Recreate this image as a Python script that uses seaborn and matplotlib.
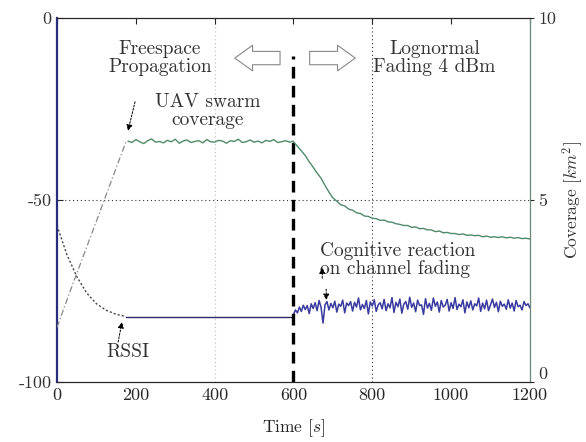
import numpy as np
import matplotlib
matplotlib.use("Agg")
import matplotlib.pyplot as plt
import seaborn as sns

# --- data ---
ramp_t = [0, 25, 50, 75, 100, 125, 150, 175]
rssi_ramp = [-57, -65, -71, -75.5, -78.5, -80.3, -81.4, -82]
cov_ramp = [1.5, 2.25, 2.98, 3.7, 4.42, 5.15, 5.88, 6.6]

rssi_flat_t = [175, 600]
rssi_flat = [-82, -82]

cov_plateau = [6.62, 6.58, 6.66, 6.60, 6.55, 6.63, 6.68, 6.59, 6.61, 6.57,
               6.64, 6.60, 6.67, 6.56, 6.62, 6.65, 6.58, 6.61, 6.63, 6.57,
               6.66, 6.60, 6.59, 6.64, 6.62, 6.56, 6.63, 6.61, 6.67, 6.58,
               6.60, 6.65, 6.59, 6.62, 6.57, 6.64, 6.61, 6.66, 6.58, 6.60,
               6.63, 6.59, 6.62]
cov_decay = [6.60, 6.48, 6.35, 6.22, 6.05, 5.90, 5.74, 5.60, 5.40, 5.22,
             5.06, 4.97, 4.87, 4.84, 4.75, 4.72, 4.65, 4.63, 4.56, 4.55,
             4.50, 4.49, 4.44, 4.45, 4.40, 4.39, 4.35, 4.33, 4.30, 4.30,
             4.25, 4.26, 4.21, 4.22, 4.18, 4.18, 4.13, 4.15, 4.10, 4.11,
             4.08, 4.08, 4.05, 4.07, 4.03, 4.04, 4.02, 4.03, 3.99, 4.01,
             3.98, 3.99, 3.97, 3.99, 3.96, 3.98, 3.95, 3.97, 3.94, 3.95,
             3.93]
rssi_fade = [-81.5, -80.2, -81.0, -79.4, -80.6, -78.9, -80.1, -79.0, -81.2, -78.5,
             -79.8, -78.2, -80.4, -77.6, -79.5, -83.8, -78.8, -77.9, -80.2, -78.4,
             -79.6, -77.8, -80.8, -78.6, -79.2, -77.5, -81.0, -78.3, -79.0, -77.9,
             -80.5, -78.1, -79.4, -76.9, -80.2, -78.7, -79.8, -77.6, -81.3, -78.0,
             -79.1, -77.4, -80.6, -78.8, -78.2, -79.9, -77.3, -80.4, -78.5, -79.6,
             -76.8, -80.9, -78.1, -79.3, -77.2, -81.1, -78.6, -77.9, -80.0, -76.7,
             -79.5, -78.3, -80.7, -77.5, -79.0, -78.8, -81.4, -77.1, -79.7, -78.4,
             -80.3, -76.9, -79.2, -78.0, -80.8, -77.6, -79.4, -78.9, -77.3, -80.5,
             -78.2, -79.8, -76.8, -80.1, -78.6, -79.3, -77.4, -81.0, -78.0, -79.6,
             -77.7, -80.2, -78.5, -79.1, -76.9, -80.6, -78.3, -79.9, -77.5, -80.4,
             -78.8, -77.2, -79.5, -78.1, -80.7, -77.8, -79.2, -78.6, -80.0, -77.4,
             -79.7, -78.3, -80.5, -77.6, -79.3, -78.9, -80.2, -77.9, -79.0, -78.5,
             -79.6]

plateau_t = np.linspace(180, 600, len(cov_plateau))
decay_t = np.linspace(600, 1200, len(cov_decay))
fade_t = np.linspace(600, 1200, len(rssi_fade))

switch_t = 600
x_ticks = [0, 200, 400, 600, 800, 1000, 1200]
left_ticks = [-100, -50, 0]
right_ticks = [0, 5, 10]

sns.set_style("white")
plt.rcParams['font.family'] = ['cmr10', 'DejaVu Serif']
plt.rcParams['mathtext.fontset'] = 'cm'
plt.rcParams['axes.unicode_minus'] = False

fig = plt.figure(figsize=(5.86, 4.42), dpi=100)
ax = fig.add_axes([0.0973, 0.1357, 0.807, 0.8235])
ax2 = ax.twinx()

# grid (only a few dotted lines as in original)
ax.axhline(-50, color='#333333', ls=(0, (1, 2.5)), lw=0.8, zorder=0)
ax.axvline(400, color='#bbbbbb', ls=(0, (1, 2.5)), lw=0.8, zorder=0)
ax.axvline(800, color='#333333', ls=(0, (1, 2.5)), lw=0.8, zorder=0)

# RSSI (left axis)
sns.lineplot(x=ramp_t, y=rssi_ramp, ax=ax, color='#444444', lw=1.0,
             linestyle=(0, (1.5, 1.5)), sort=False)
sns.lineplot(x=rssi_flat_t, y=rssi_flat, ax=ax, color='#2b2b66', lw=1.0, sort=False)
sns.lineplot(x=fade_t, y=rssi_fade, ax=ax, color='#3a3aa0', lw=1.1, sort=False)

# Coverage (right axis)
sns.lineplot(x=ramp_t, y=cov_ramp, ax=ax2, color='#888888', lw=0.9,
             linestyle=(0, (5, 2, 1, 2)), sort=False)
sns.lineplot(x=plateau_t, y=cov_plateau, ax=ax2, color='#4f8a6a', lw=1.0, sort=False)
sns.lineplot(x=decay_t, y=cov_decay, ax=ax2, color='#4f8a6a', lw=1.0, sort=False)

# switch line
ax.vlines(switch_t, -100, -10.5, colors='black', linestyles=(0, (3.5, 2.2)), lw=2.4)

ax.set_xlim(0, 1200)
ax.set_ylim(-100, 0)
ax2.set_ylim(0, 10)
ax.set_xticks(x_ticks)
ax.set_xticklabels([str(v) for v in x_ticks], fontsize=13)
ax.set_yticks(left_ticks)
ax.set_yticklabels([str(v) for v in left_ticks], fontsize=13, color='#333333')
ax2.set_yticks(right_ticks)
ax2.set_yticklabels([str(v) for v in right_ticks], fontsize=13, color='#333333')
ax2.get_yticklabels()[0].set_va('bottom')
ax.tick_params(direction='in', length=4, top=True, pad=4)
ax2.tick_params(direction='out', length=3, pad=3)

ax.set_xlabel('Time [$s$]', fontsize=12.5, labelpad=10)
ax2.set_ylabel('Coverage [$km^2$]', fontsize=12.5, color='#333333', labelpad=3)

for s in ['top', 'bottom']:
    ax.spines[s].set_color('#333333')
ax.spines['left'].set_color('#2b2b80')
ax.spines['left'].set_linewidth(1.6)
ax2.spines['right'].set_color('#6a8a7a')
ax2.spines['left'].set_visible(False)

# annotations
tc = '#333333'
ax.text(261, -11, 'Freespace\nPropagation', ha='center', va='center', fontsize=14,
        color=tc, linespacing=1.05)
ax.text(383, -25.5, 'UAV swarm\ncoverage', ha='center', va='center', fontsize=14,
        color=tc, linespacing=1.05)
ax.text(958, -11, 'Lognormal\nFading 4 dBm', ha='center', va='center', fontsize=14,
        color=tc, linespacing=1.05)
ax.text(667, -66.5, 'Cognitive reaction\non channel fading', ha='left', va='center',
        fontsize=14, color=tc, linespacing=1.05)
ax.text(180, -91.8, 'RSSI', ha='center', va='center', fontsize=14, color=tc)

block = dict(arrowstyle='simple,head_length=0.8,head_width=1.15,tail_width=0.6',
             fc='white', ec='#888888', lw=0.8, mutation_scale=16)
ax.annotate('', xy=(444, -11), xytext=(573, -11), arrowprops=block)
ax.annotate('', xy=(764, -11), xytext=(634, -11), arrowprops=block)

pointer = dict(arrowstyle='-|>', color='black', lw=0.7, ls=(0, (2, 1.5)),
               mutation_scale=9, shrinkA=0, shrinkB=0)
ax.annotate('', xy=(180, -31), xytext=(198, -23), arrowprops=pointer)
ax.annotate('', xy=(165, -83.5), xytext=(155, -89), arrowprops=pointer)
ax.annotate('', xy=(673, -68.5), xytext=(673, -71.5), arrowprops=pointer)
ax.annotate('', xy=(683, -77.5), xytext=(683, -74.5), arrowprops=pointer)

fig.savefig('out.png', dpi=100)
